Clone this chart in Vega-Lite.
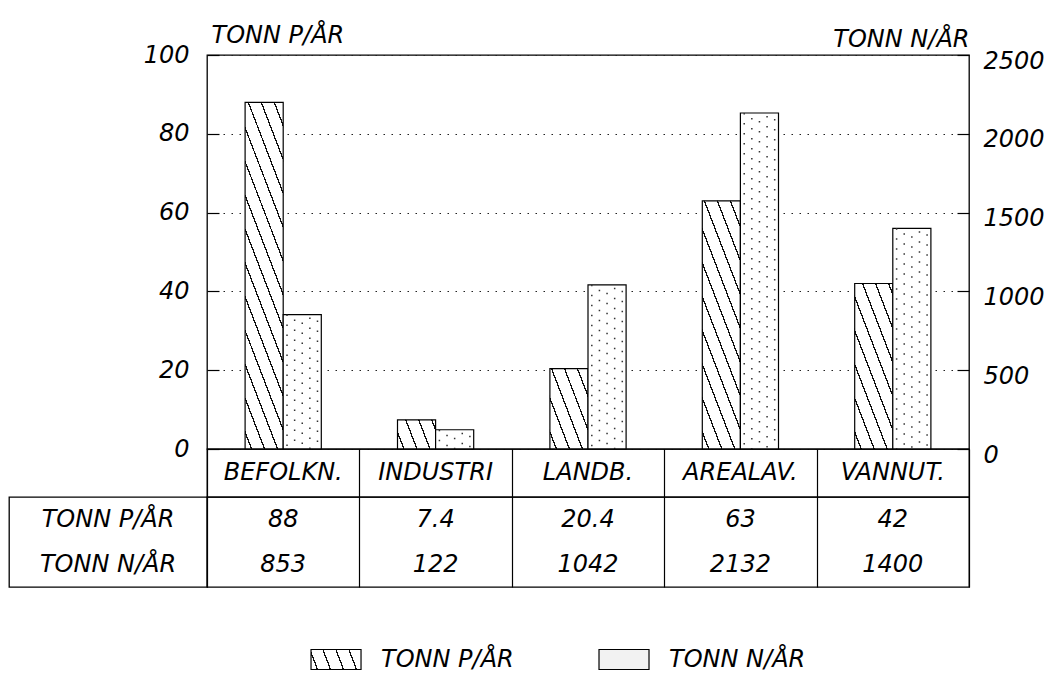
{
  "$schema": "https://vega.github.io/schema/vega-lite/v6.json",
  "background": "white",
  "padding": {"left": 8, "top": 22, "right": 0, "bottom": 0},
  "config": {
    "view": {"stroke": "black", "strokeWidth": 1.3},
    "font": "DejaVu Sans",
    "text": {"font": "DejaVu Sans", "fontStyle": "italic", "fontSize": 24, "color": "black"},
    "axis": {"labelFont": "DejaVu Sans", "labelFontStyle": "italic", "labelFontSize": 24, "labelColor": "black", "titleFont": "DejaVu Sans", "titleFontStyle": "italic", "titleFontWeight": "normal", "titleFontSize": 24, "titleColor": "black"}
  },
  "datasets": {
    "loads": [
      {"cat": "BEFOLKN.", "series": "P", "value": 88},
      {"cat": "INDUSTRI", "series": "P", "value": 7.4},
      {"cat": "LANDB.", "series": "P", "value": 20.4},
      {"cat": "AREALAV.", "series": "P", "value": 63},
      {"cat": "VANNUT.", "series": "P", "value": 42},
      {"cat": "BEFOLKN.", "series": "N", "value": 853},
      {"cat": "INDUSTRI", "series": "N", "value": 122},
      {"cat": "LANDB.", "series": "N", "value": 1042},
      {"cat": "AREALAV.", "series": "N", "value": 2132},
      {"cat": "VANNUT.", "series": "N", "value": 1400}
    ],
    "rowlabels": [
      {"series": "P", "label": "TONN P/ÅR"},
      {"series": "N", "label": "TONN N/ÅR"}
    ]
  },
  "columns": 2,
  "spacing": 0,
  "bounds": "flush",
  "align": "each",
  "resolve": {"scale": {"x": "independent", "y": "independent", "fill": "independent", "xOffset": "independent"}},
  "concat": [
    {
      "width": 198, "height": 394,
      "data": {"name": "rowlabels"},
      "mark": {"type": "text", "text": ""},
      "encoding": {},
      "view": {"stroke": null}
    },
    {
      "width": 762, "height": 394,
      "data": {"name": "loads"},
      "layer": [
        {
          "transform": [{"filter": "datum.series === 'P'"}],
          "mark": {"type": "bar", "stroke": "black", "strokeWidth": 1.2},
          "encoding": {
            "x": {"field": "cat", "type": "nominal", "scale": {"domain": ["BEFOLKN.", "INDUSTRI", "LANDB.", "AREALAV.", "VANNUT."], "paddingInner": 0, "paddingOuter": 0}, "axis": null},
            "xOffset": {"field": "series", "type": "nominal", "scale": {"domain": ["P", "N"], "paddingInner": 0, "paddingOuter": 1}},
            "y": {"field": "value", "type": "quantitative", "scale": {"domain": [0, 100], "nice": false},
              "axis": {"values": [0, 20, 40, 60, 80, 100], "grid": true, "gridDash": [1.5, 6.5], "gridColor": "#222", "gridWidth": 1.1, "domain": false, "ticks": true, "tickSize": -12, "tickColor": "black", "tickWidth": 1.2, "labelPadding": 30, "title": "TONN P/ÅR", "titleAngle": 0, "titleAlign": "left", "titleBaseline": "alphabetic", "titleX": 4, "titleY": -13}},
            "fill": {
              "condition": [
                {"test": "datum.cat === 'BEFOLKN.'", "value": {"gradient": "linear", "x1": 0, "y1": 1, "x2": 0.3398, "y2": -0.1888, "stops": [
                    {"offset": 0.0339, "color": "#fff"}, {"offset": 0.0339, "color": "#111"}, {"offset": 0.0419, "color": "#111"}, {"offset": 0.0419, "color": "#fff"},
                    {"offset": 0.1097, "color": "#fff"}, {"offset": 0.1097, "color": "#111"}, {"offset": 0.1177, "color": "#111"}, {"offset": 0.1177, "color": "#fff"},
                    {"offset": 0.1855, "color": "#fff"}, {"offset": 0.1855, "color": "#111"}, {"offset": 0.1935, "color": "#111"}, {"offset": 0.1935, "color": "#fff"},
                    {"offset": 0.2614, "color": "#fff"}, {"offset": 0.2614, "color": "#111"}, {"offset": 0.2694, "color": "#111"}, {"offset": 0.2694, "color": "#fff"},
                    {"offset": 0.3372, "color": "#fff"}, {"offset": 0.3372, "color": "#111"}, {"offset": 0.3452, "color": "#111"}, {"offset": 0.3452, "color": "#fff"},
                    {"offset": 0.4130, "color": "#fff"}, {"offset": 0.4130, "color": "#111"}, {"offset": 0.4210, "color": "#111"}, {"offset": 0.4210, "color": "#fff"},
                    {"offset": 0.4888, "color": "#fff"}, {"offset": 0.4888, "color": "#111"}, {"offset": 0.4968, "color": "#111"}, {"offset": 0.4968, "color": "#fff"},
                    {"offset": 0.5646, "color": "#fff"}, {"offset": 0.5646, "color": "#111"}, {"offset": 0.5726, "color": "#111"}, {"offset": 0.5726, "color": "#fff"},
                    {"offset": 0.6405, "color": "#fff"}, {"offset": 0.6405, "color": "#111"}, {"offset": 0.6485, "color": "#111"}, {"offset": 0.6485, "color": "#fff"},
                    {"offset": 0.7163, "color": "#fff"}, {"offset": 0.7163, "color": "#111"}, {"offset": 0.7243, "color": "#111"}, {"offset": 0.7243, "color": "#fff"},
                    {"offset": 0.7921, "color": "#fff"}, {"offset": 0.7921, "color": "#111"}, {"offset": 0.8001, "color": "#111"}, {"offset": 0.8001, "color": "#fff"},
                    {"offset": 0.8679, "color": "#fff"}, {"offset": 0.8679, "color": "#111"}, {"offset": 0.8759, "color": "#111"}, {"offset": 0.8759, "color": "#fff"},
                    {"offset": 0.9437, "color": "#fff"}, {"offset": 0.9437, "color": "#111"}, {"offset": 0.9517, "color": "#111"}, {"offset": 0.9517, "color": "#fff"}
                  ]}},
                {"test": "datum.cat === 'INDUSTRI'", "value": {"gradient": "linear", "x1": 0, "y1": 1, "x2": 1.191, "y2": 0.649, "stops": [
                    {"offset": 0.1177, "color": "#fff"}, {"offset": 0.1177, "color": "#111"}, {"offset": 0.1457, "color": "#111"}, {"offset": 0.1457, "color": "#fff"},
                    {"offset": 0.3811, "color": "#fff"}, {"offset": 0.3811, "color": "#111"}, {"offset": 0.4091, "color": "#111"}, {"offset": 0.4091, "color": "#fff"},
                    {"offset": 0.6445, "color": "#fff"}, {"offset": 0.6445, "color": "#111"}, {"offset": 0.6725, "color": "#111"}, {"offset": 0.6725, "color": "#fff"},
                    {"offset": 0.9079, "color": "#fff"}, {"offset": 0.9079, "color": "#111"}, {"offset": 0.9359, "color": "#111"}, {"offset": 0.9359, "color": "#fff"}
                  ]}},
                {"test": "datum.cat === 'LANDB.'", "value": {"gradient": "linear", "x1": 0, "y1": 1, "x2": 1.0923, "y2": 0.1138, "stops": [
                    {"offset": 0.0842, "color": "#fff"}, {"offset": 0.0842, "color": "#111"}, {"offset": 0.1042, "color": "#111"}, {"offset": 0.1042, "color": "#fff"},
                    {"offset": 0.2725, "color": "#fff"}, {"offset": 0.2725, "color": "#111"}, {"offset": 0.2925, "color": "#111"}, {"offset": 0.2925, "color": "#fff"},
                    {"offset": 0.4608, "color": "#fff"}, {"offset": 0.4608, "color": "#111"}, {"offset": 0.4808, "color": "#111"}, {"offset": 0.4808, "color": "#fff"},
                    {"offset": 0.6491, "color": "#fff"}, {"offset": 0.6491, "color": "#111"}, {"offset": 0.6691, "color": "#111"}, {"offset": 0.6691, "color": "#fff"},
                    {"offset": 0.8374, "color": "#fff"}, {"offset": 0.8374, "color": "#111"}, {"offset": 0.8574, "color": "#111"}, {"offset": 0.8574, "color": "#fff"}
                  ]}},
                {"test": "datum.cat === 'AREALAV.'", "value": {"gradient": "linear", "x1": 0, "y1": 1, "x2": 0.4819, "y2": -0.2070, "stops": [
                    {"offset": 0.0435, "color": "#fff"}, {"offset": 0.0435, "color": "#111"}, {"offset": 0.0539, "color": "#111"}, {"offset": 0.0539, "color": "#fff"},
                    {"offset": 0.1408, "color": "#fff"}, {"offset": 0.1408, "color": "#111"}, {"offset": 0.1512, "color": "#111"}, {"offset": 0.1512, "color": "#fff"},
                    {"offset": 0.2381, "color": "#fff"}, {"offset": 0.2381, "color": "#111"}, {"offset": 0.2485, "color": "#111"}, {"offset": 0.2485, "color": "#fff"},
                    {"offset": 0.3354, "color": "#fff"}, {"offset": 0.3354, "color": "#111"}, {"offset": 0.3458, "color": "#111"}, {"offset": 0.3458, "color": "#fff"},
                    {"offset": 0.4327, "color": "#fff"}, {"offset": 0.4327, "color": "#111"}, {"offset": 0.4431, "color": "#111"}, {"offset": 0.4431, "color": "#fff"},
                    {"offset": 0.5301, "color": "#fff"}, {"offset": 0.5301, "color": "#111"}, {"offset": 0.5405, "color": "#111"}, {"offset": 0.5405, "color": "#fff"},
                    {"offset": 0.6274, "color": "#fff"}, {"offset": 0.6274, "color": "#111"}, {"offset": 0.6378, "color": "#111"}, {"offset": 0.6378, "color": "#fff"},
                    {"offset": 0.7247, "color": "#fff"}, {"offset": 0.7247, "color": "#111"}, {"offset": 0.7351, "color": "#111"}, {"offset": 0.7351, "color": "#fff"},
                    {"offset": 0.8220, "color": "#fff"}, {"offset": 0.8220, "color": "#111"}, {"offset": 0.8324, "color": "#111"}, {"offset": 0.8324, "color": "#fff"},
                    {"offset": 0.9193, "color": "#fff"}, {"offset": 0.9193, "color": "#111"}, {"offset": 0.9297, "color": "#111"}, {"offset": 0.9297, "color": "#fff"}
                  ]}}
              ],
              "value": {"gradient": "linear", "x1": 0, "y1": 1, "x2": 0.7047, "y2": -0.1769, "stops": [
                    {"offset": 0.0571, "color": "#fff"}, {"offset": 0.0571, "color": "#111"}, {"offset": 0.0707, "color": "#111"}, {"offset": 0.0707, "color": "#fff"},
                    {"offset": 0.1848, "color": "#fff"}, {"offset": 0.1848, "color": "#111"}, {"offset": 0.1984, "color": "#111"}, {"offset": 0.1984, "color": "#fff"},
                    {"offset": 0.3126, "color": "#fff"}, {"offset": 0.3126, "color": "#111"}, {"offset": 0.3262, "color": "#111"}, {"offset": 0.3262, "color": "#fff"},
                    {"offset": 0.4403, "color": "#fff"}, {"offset": 0.4403, "color": "#111"}, {"offset": 0.4539, "color": "#111"}, {"offset": 0.4539, "color": "#fff"},
                    {"offset": 0.5680, "color": "#fff"}, {"offset": 0.5680, "color": "#111"}, {"offset": 0.5816, "color": "#111"}, {"offset": 0.5816, "color": "#fff"},
                    {"offset": 0.6958, "color": "#fff"}, {"offset": 0.6958, "color": "#111"}, {"offset": 0.7094, "color": "#111"}, {"offset": 0.7094, "color": "#fff"},
                    {"offset": 0.8235, "color": "#fff"}, {"offset": 0.8235, "color": "#111"}, {"offset": 0.8371, "color": "#111"}, {"offset": 0.8371, "color": "#fff"},
                    {"offset": 0.9513, "color": "#fff"}, {"offset": 0.9513, "color": "#111"}, {"offset": 0.9649, "color": "#111"}, {"offset": 0.9649, "color": "#fff"}
                  ]}
            }
          }
        },
        {
          "transform": [{"filter": "datum.series === 'N'"}],
          "encoding": {
            "y": {"field": "value", "type": "quantitative", "scale": {"domain": [0, 2500], "nice": false},
              "axis": {"orient": "right", "values": [0, 500, 1000, 1500, 2000, 2500], "format": "d", "grid": false, "domain": false, "ticks": true, "tickSize": -12, "tickColor": "black", "tickWidth": 1.2, "labelPadding": 26, "labelOffset": 6, "labelAlign": "left", "title": "TONN N/ÅR", "titleAngle": 0, "titleAlign": "right", "titleBaseline": "alphabetic", "titleX": 0, "titleY": -9}}
          },
          "layer": [
            {"mark": {"type": "bar", "fill": "white", "stroke": "black", "strokeWidth": 1.2},
             "encoding": {
               "x": {"field": "cat", "type": "nominal", "scale": {"domain": ["BEFOLKN.", "INDUSTRI", "LANDB.", "AREALAV.", "VANNUT."], "paddingInner": 0, "paddingOuter": 0}, "axis": null},
               "xOffset": {"field": "series", "type": "nominal", "scale": {"domain": ["P", "N"], "paddingInner": 0, "paddingOuter": 1}}
             }},
            {"mark": {"type": "rule", "stroke": "#333", "strokeWidth": 1.5, "strokeDash": [1.5, 8.5], "strokeDashOffset": 0},
             "encoding": {"x": {"field": "cat", "type": "nominal", "bandPosition": 0.525, "axis": null}, "y2": {"datum": 0}}},
            {"mark": {"type": "rule", "stroke": "#333", "strokeWidth": 1.5, "strokeDash": [1.5, 8.5], "strokeDashOffset": 5},
             "encoding": {"x": {"field": "cat", "type": "nominal", "bandPosition": 0.575, "axis": null}, "y2": {"datum": 0}}},
            {"mark": {"type": "rule", "stroke": "#333", "strokeWidth": 1.5, "strokeDash": [1.5, 8.5], "strokeDashOffset": 2},
             "encoding": {"x": {"field": "cat", "type": "nominal", "bandPosition": 0.625, "axis": null}, "y2": {"datum": 0}}},
            {"mark": {"type": "rule", "stroke": "#333", "strokeWidth": 1.5, "strokeDash": [1.5, 8.5], "strokeDashOffset": 7},
             "encoding": {"x": {"field": "cat", "type": "nominal", "bandPosition": 0.675, "axis": null}, "y2": {"datum": 0}}},
            {"mark": {"type": "rule", "stroke": "#333", "strokeWidth": 1.5, "strokeDash": [1.5, 8.5], "strokeDashOffset": 4},
             "encoding": {"x": {"field": "cat", "type": "nominal", "bandPosition": 0.725, "axis": null}, "y2": {"datum": 0}}}
          ]
        }
      ],
      "resolve": {"scale": {"y": "independent"}, "axis": {"y": "independent"}}
    },
    {
      "width": 198, "height": 48,
      "data": {"name": "rowlabels"},
      "mark": {"type": "text", "text": ""},
      "encoding": {},
      "view": {"stroke": null}
    },
    {
      "width": 762, "height": 48,
      "data": {"name": "loads"},
      "transform": [{"filter": "datum.series === 'P'"}],
      "mark": {"type": "text"},
      "encoding": {
        "x": {"field": "cat", "type": "nominal", "scale": {"domain": ["BEFOLKN.", "INDUSTRI", "LANDB.", "AREALAV.", "VANNUT."], "paddingInner": 0, "paddingOuter": 0},
          "axis": {"grid": true, "gridColor": "black", "gridWidth": 1.2, "tickBand": "extent", "labels": false, "ticks": false, "domain": false, "title": null}},
        "text": {"field": "cat", "type": "nominal"}
      }
    },
    {
      "width": 198, "height": 90,
      "data": {"name": "rowlabels"},
      "mark": {"type": "text"},
      "encoding": {
        "y": {"field": "series", "type": "nominal", "scale": {"domain": ["P", "N"], "paddingInner": 0, "paddingOuter": 0}, "axis": null},
        "text": {"field": "label", "type": "nominal"}
      }
    },
    {
      "width": 762, "height": 90,
      "data": {"name": "loads"},
      "mark": {"type": "text"},
      "encoding": {
        "x": {"field": "cat", "type": "nominal", "scale": {"domain": ["BEFOLKN.", "INDUSTRI", "LANDB.", "AREALAV.", "VANNUT."], "paddingInner": 0, "paddingOuter": 0},
          "axis": {"grid": true, "gridColor": "black", "gridWidth": 1.2, "tickBand": "extent", "labels": false, "ticks": false, "domain": false, "title": null}},
        "y": {"field": "series", "type": "nominal", "scale": {"domain": ["P", "N"], "paddingInner": 0, "paddingOuter": 0}, "axis": null},
        "text": {"field": "value", "type": "nominal"}
      }
    },
    {
      "width": 198, "height": 93,
      "data": {"name": "rowlabels"},
      "mark": {"type": "text", "text": ""},
      "encoding": {},
      "view": {"stroke": null}
    },
    {
      "width": 762, "height": 93,
      "view": {"stroke": null},
      "data": {"name": "rowlabels"},
      "encoding": {
        "x": {"field": "series", "type": "nominal", "scale": {"type": "point", "domain": ["P", "N"], "padding": 0.823, "align": 0.2722}, "axis": null}
      },
      "layer": [
        {
          "mark": {"type": "point", "shape": "M-1,-0.4H1V0.4H-1Z", "size": 2500, "filled": true, "opacity": 1, "stroke": "black", "strokeWidth": 1.2, "yOffset": 26},
          "encoding": {
            "fill": {
              "condition": {"test": "datum.series === 'P'", "value": {"gradient": "linear", "x1": 0, "y1": 1, "x2": 1.1272, "y2": 0.8266, "stops": [
                {"offset": 0.1007, "color": "#fff"}, {"offset": 0.1007, "color": "#111"}, {"offset": 0.1247, "color": "#111"}, {"offset": 0.1247, "color": "#fff"},
                {"offset": 0.3260, "color": "#fff"}, {"offset": 0.3260, "color": "#111"}, {"offset": 0.3500, "color": "#111"}, {"offset": 0.3500, "color": "#fff"},
                {"offset": 0.5513, "color": "#fff"}, {"offset": 0.5513, "color": "#111"}, {"offset": 0.5753, "color": "#111"}, {"offset": 0.5753, "color": "#fff"},
                {"offset": 0.7766, "color": "#fff"}, {"offset": 0.7766, "color": "#111"}, {"offset": 0.8006, "color": "#111"}, {"offset": 0.8006, "color": "#fff"}
              ]}},
              "value": "#f2f2f2"
            }
          }
        },
        {
          "mark": {"type": "text", "align": "left", "dx": 45, "yOffset": 26},
          "encoding": {"text": {"field": "label", "type": "nominal"}}
        }
      ]
    }
  ]
}
